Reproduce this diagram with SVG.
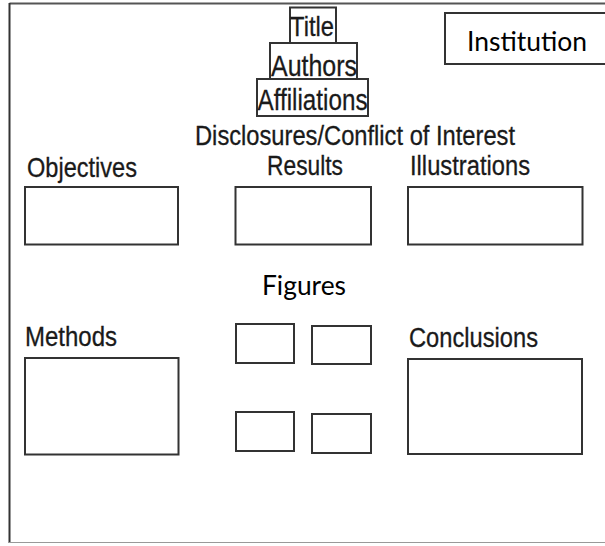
<svg xmlns="http://www.w3.org/2000/svg" width="605" height="546" viewBox="0 0 605 546">
<style>
.box{fill:none;stroke:#333;stroke-width:2}
.lbl{font-family:"Liberation Sans",Arial,sans-serif;fill:#1a1a1a;stroke:#1a1a1a;stroke-width:0.3}
.cal{font-family:Lato,"Liberation Sans",sans-serif;fill:#000}
</style>
<rect width="605" height="546" fill="#fff"/>
<g id="frame">
<line x1="9.5" y1="3.5" x2="605" y2="3.5" stroke="#555" stroke-width="2"/>
<line x1="9.5" y1="3" x2="9.5" y2="543" stroke="#333" stroke-width="2"/>
<line x1="9" y1="542.5" x2="605" y2="542.5" stroke="#999" stroke-width="1"/>
</g>
<g id="title">
<rect class="box" x="290" y="7.5" width="46" height="35.5"/>
<text class="lbl" x="290" y="36" font-size="28" textLength="44" lengthAdjust="spacingAndGlyphs">Title</text>
</g>
<g id="authors">
<rect class="box" x="270" y="43" width="87" height="36"/>
<text class="lbl" x="271" y="76" font-size="30" textLength="86" lengthAdjust="spacingAndGlyphs">Authors</text>
</g>
<g id="affiliations">
<rect class="box" x="257" y="79" width="111" height="37"/>
<text class="lbl" x="257.5" y="110" font-size="30" textLength="110" lengthAdjust="spacingAndGlyphs">Affiliations</text>
</g>
<g id="institution">
<rect class="box" x="445" y="13" width="170" height="51"/>
<text class="cal" x="467" y="51" font-size="27" textLength="120" lengthAdjust="spacingAndGlyphs">Institution</text>
</g>
<g id="disclosures">
<text class="lbl" x="195" y="145" font-size="27" textLength="320" lengthAdjust="spacingAndGlyphs">Disclosures/Conflict of Interest</text>
</g>
<g id="objectives">
<text class="lbl" x="27" y="177" font-size="28" textLength="110" lengthAdjust="spacingAndGlyphs">Objectives</text>
<rect class="box" x="25" y="187" width="153" height="57.5"/>
</g>
<g id="results">
<text class="lbl" x="267" y="175" font-size="27" textLength="76" lengthAdjust="spacingAndGlyphs">Results</text>
<rect class="box" x="235.5" y="187" width="135.5" height="57.5"/>
</g>
<g id="illustrations">
<text class="lbl" x="410" y="175" font-size="27" textLength="120" lengthAdjust="spacingAndGlyphs">Illustrations</text>
<rect class="box" x="408" y="187" width="174.5" height="57.5"/>
</g>
<g id="figures">
<text class="cal" x="262" y="295" font-size="27" textLength="84" lengthAdjust="spacingAndGlyphs">Figures</text>
<rect class="box" x="236" y="324" width="58" height="39"/>
<rect class="box" x="312" y="326" width="59" height="38"/>
<rect class="box" x="236" y="412" width="58" height="39"/>
<rect class="box" x="312" y="414" width="59" height="39"/>
</g>
<g id="methods">
<text class="lbl" x="25" y="346" font-size="27" textLength="92" lengthAdjust="spacingAndGlyphs">Methods</text>
<rect class="box" x="25" y="358" width="153.5" height="96.5"/>
</g>
<g id="conclusions">
<text class="lbl" x="409" y="347" font-size="27" textLength="129" lengthAdjust="spacingAndGlyphs">Conclusions</text>
<rect class="box" x="408" y="359" width="174" height="95"/>
</g>
<g id="connectors"/>
</svg>
